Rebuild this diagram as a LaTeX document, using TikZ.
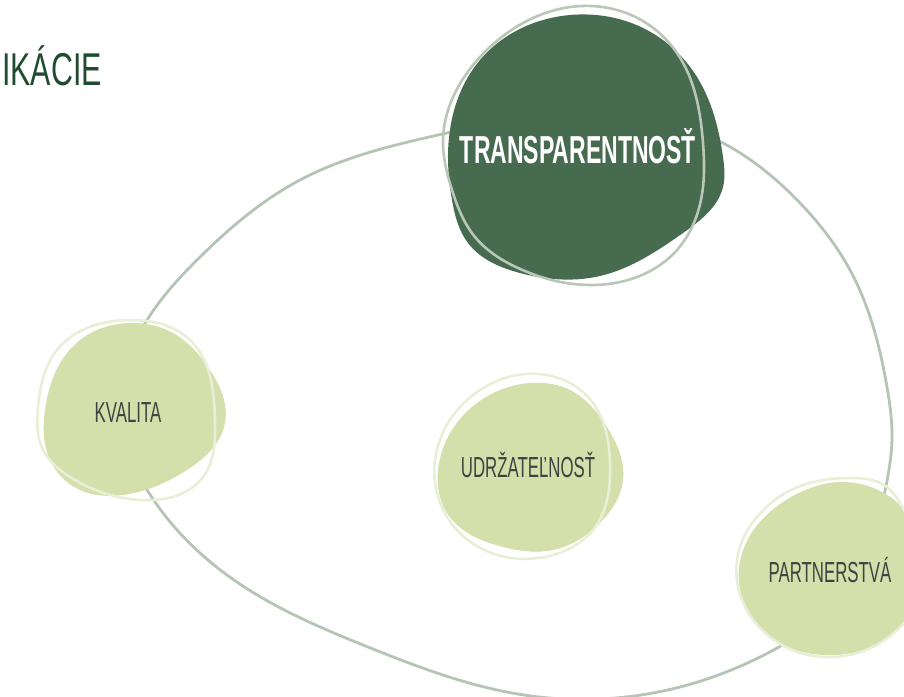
\documentclass[tikz,border=0pt]{standalone}
\usepackage{fontspec}
\usetikzlibrary{hobby}
\setmainfont{Liberation Sans}
\newfontfamily\condfont[FakeStretch=0.58]{Liberation Sans}
\newfontfamily\boldcond[FakeStretch=0.59]{Liberation Sans Bold}
\newfontfamily\headfont[FakeStretch=0.66]{Liberation Sans}
\definecolor{forest}{HTML}{476B4F}
\definecolor{sage}{HTML}{D5DFAC}
\definecolor{loopgray}{HTML}{B6C4B6}
\definecolor{ringpale}{HTML}{E9EFD6}
\definecolor{ringgray}{HTML}{B9C6B8}
\definecolor{headgreen}{HTML}{1F4C2E}
\definecolor{labelgray}{HTML}{3F4340}
\tikzset{
  lightlabel/.style={text=labelgray, font=\condfont\fontsize{29}{30}\selectfont, anchor=base, inner sep=0pt},
  darklabel/.style={text=white, font=\boldcond\fontsize{39}{40}\selectfont, anchor=base, inner sep=0pt},
  blobpath/.style={use Hobby shortcut, closed=true},
  paleblob/.style={blobpath, fill=sage},
  paleedge/.style={blobpath, draw=ringpale, line width=2.6pt},
}
\begin{document}
\begin{tikzpicture}[x=1pt, y=-1pt, line join=round, line cap=round]
\useasboundingbox (0,0) rectangle (904,696);
% loop
\draw[blobpath, loopgray, line width=2.8pt]
  (447,133) .. (300,180) .. (200,257) .. (147,320) .. (120,410) .. (149,493)
  .. (234,580) .. (368,647) .. (524,695) .. (680,687) .. (779,647)
  .. (852,585) .. (883,500) .. (892,437) .. (887,387) .. (850,270)
  .. (800,203) .. (723,143) .. (585,112);
% transparentnost
\fill[blobpath, forest] (448,160) .. (480,60) .. (570,15) .. (647,30)
  .. (697,77) .. (723,157) .. (723,187) .. (683,233) .. (600,276)
  .. (520,273) .. (468,243) .. (452,200);
\draw[blobpath, ringgray, line width=2.6pt] (443,140) .. (480,57) .. (617,10)
  .. (677,53) .. (703,143) .. (703,187) .. (677,250) .. (590,285)
  .. (518,268) .. (475,237) .. (452,190);
\node[darklabel] (transp) at (578,163) {TRANSPARENTNOSŤ};
% kvalita
\fill[paleblob] (130,323) .. (80,340) .. (45,410) .. (50,460) .. (80,490)
  .. (123,495) .. (187,470) .. (225,423) .. (210,370) .. (173,333);
\draw[paleedge] (38,407) .. (57,350) .. (130,320) .. (190,340) .. (215,420)
  .. (203,477) .. (140,500) .. (70,477) .. (43,450);
\node[lightlabel] (kvalita) at (128,422) {KVALITA};
% udrzatelnost
\fill[paleblob] (530,383) .. (477,403) .. (438,470) .. (447,513) .. (503,547)
  .. (553,550) .. (600,523) .. (623,480) .. (607,427) .. (570,390);
\draw[paleedge] (547,375) .. (480,390) .. (435,460) .. (457,530) .. (553,555)
  .. (593,530) .. (610,463) .. (593,403);
\node[lightlabel] (udrz) at (528,477) {UDRŽATEĽNOSŤ};
% partnerstva
\fill[paleblob] (841,482) .. (791,497) .. (741,557) .. (747,610) .. (774,640)
  .. (824,655) .. (881,642) .. (918,600) .. (918,530) .. (884,493);
\draw[paleedge] (851,478) .. (791,490) .. (757,517) .. (739,550) .. (774,640)
  .. (834,657) .. (904,623) .. (925,560) .. (904,510) .. (887,487);
\node[lightlabel] (partner) at (830,582) {PARTNERSTVÁ};
% title
\node[text=headgreen, font=\headfont\fontsize{46}{46}\selectfont, anchor=base west, inner sep=0pt] (title) at (2,85) {IKÁCIE};
\end{tikzpicture}
\end{document}
